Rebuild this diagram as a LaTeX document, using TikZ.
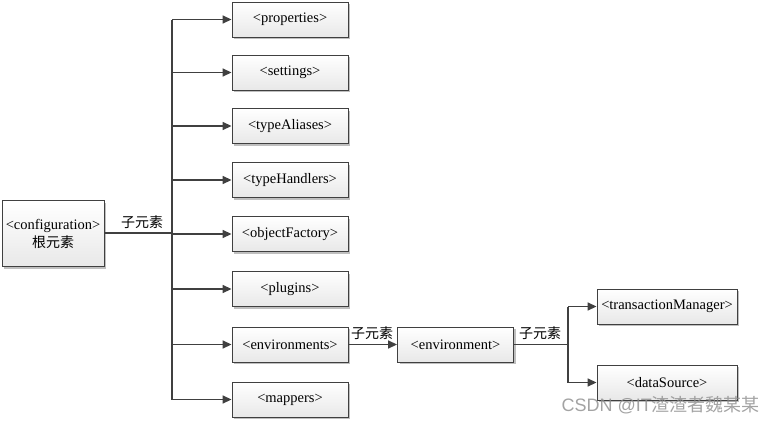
\documentclass[tikz,border=0pt]{standalone}
\usepackage{fontspec}
\setmainfont{Liberation Serif}
\newfontfamily\cjk{Noto Sans CJK SC}
\newfontfamily\wmfont{Liberation Sans}
\usetikzlibrary{arrows.meta,shadows}
\definecolor{edgecol}{HTML}{404040}
\tikzset{
  box/.style={draw=edgecol, line width=0.9pt, top color=white, bottom color=black!9,
    minimum width=116pt, minimum height=35pt, inner sep=0pt,
    font=\fontsize{14.5}{16}\selectfont,
    drop shadow={shadow xshift=2pt, shadow yshift=-2pt, fill=black!25, opacity=1}},
  conn/.style={draw=edgecol, line width=1.6pt},
  arr/.style={conn, -{Triangle[length=9pt,width=8pt]}},
  lbl/.style={font=\cjk\fontsize{14}{16}\selectfont, inner sep=0pt}
}
\begin{document}
\begin{tikzpicture}[x=1pt,y=-1pt]
\useasboundingbox (0,0) rectangle (775,423);
\node[box, minimum width=102pt, minimum height=66pt, align=center] (cfg) at (53,233.5)
  {\textless configuration\textgreater\\[2pt]{\cjk\fontsize{14}{16}\selectfont 根元素}};
\node[box] (p1) at (290,19.5) {\textless properties\textgreater};
\node[box] (p2) at (290,72.5) {\textless settings\textgreater};
\node[box] (p3) at (290,126) {\textless typeAliases\textgreater};
\node[box] (p4) at (290,180) {\textless typeHandlers\textgreater};
\node[box] (p5) at (290,234) {\textless objectFactory\textgreater};
\node[box] (p6) at (290,289) {\textless plugins\textgreater};
\node[box] (p7) at (290,344.5) {\textless environments\textgreater};
\node[box] (p8) at (290,399.5) {\textless mappers\textgreater};
\node[box] (env) at (455.5,344.5) {\textless environment\textgreater};
\node[box, minimum width=140pt] (tm) at (667,306.5) {\textless transactionManager\textgreater};
\node[box, minimum width=140pt] (ds) at (667,382.5) {\textless dataSource\textgreater};
\coordinate (trunk) at (172,233);
\coordinate (br) at (568,344.5);
% main trunk
\draw[conn] (cfg.east |- trunk) -- (trunk);
\draw[conn] (trunk |- p1) -- (trunk |- p8);
\foreach \n in {p1,p2,p3,p4,p5,p6,p7,p8}
  \draw[arr] (trunk |- \n) -- (\n.west);
\node[lbl, anchor=south] (l1) at (142,229) {子元素};
% environments -> environment
\draw[arr] (p7.east) -- (env.west);
\node[lbl, anchor=south] (l2) at (372,340) {子元素};
% environment -> children
\draw[conn] (env.east) -- (br);
\draw[conn] (br |- tm) -- (br |- ds);
\draw[arr] (br |- tm) -- (tm.west);
\draw[arr] (br |- ds) -- (ds.west);
\node[lbl, anchor=south] (l3) at (540,340) {子元素};
% watermark
\node[anchor=east, inner sep=0pt, text=black!45, opacity=0.8, font=\fontsize{18}{20}\selectfont] (wm) at (760,405)
  {\wmfont CSDN @IT{\cjk 渣渣者魏某某}};
\end{tikzpicture}
\end{document}
